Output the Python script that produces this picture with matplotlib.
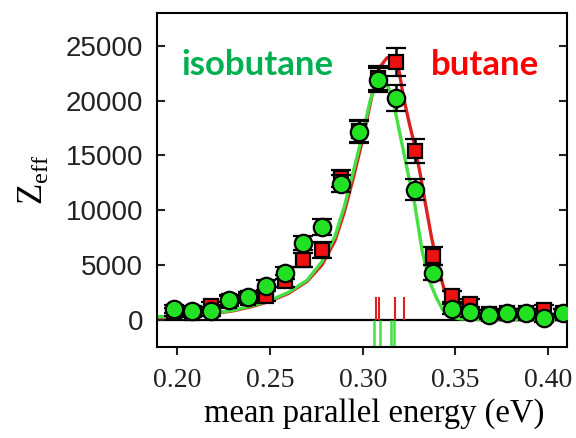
import numpy as np
import matplotlib
matplotlib.use("Agg")
import matplotlib.pyplot as plt

plt.rcParams['mathtext.fontset'] = 'custom'
plt.rcParams['mathtext.rm'] = 'Liberation Serif'

# measured Zeff vs mean parallel energy
energy = [0.198, 0.208, 0.218, 0.228, 0.238, 0.248, 0.258, 0.268, 0.278, 0.288, 0.298,
          0.308, 0.318, 0.328, 0.338, 0.348, 0.358, 0.368, 0.378, 0.388, 0.398, 0.408]
iso_z = [970, 800, 760, 1760, 2060, 3090, 4300, 6970, 8480, 12420, 17120,
         21880, 20240, 11880, 4300, 970, 670, 450, 600, 600, 150, 600]
iso_err = [400, 400, 400, 450, 450, 500, 550, 650, 750, 800, 1000,
           1100, 1200, 1000, 700, 500, 450, 400, 400, 400, 400, 400]
but_z = [700, 600, 1200, 1700, 2000, 2180, 3500, 5450, 6360, 12900, 17200,
         22100, 23550, 15390, 5820, 2120, 1420, 500, 600, 600, 900, 600]
but_err = [400, 400, 450, 450, 450, 500, 550, 600, 700, 800, 1000,
           1100, 1300, 1100, 800, 500, 450, 400, 400, 400, 400, 400]

# fitted curves
iso_fit_x = [0.189, 0.200, 0.210, 0.220, 0.230, 0.240, 0.250, 0.260, 0.270, 0.278, 0.285,
             0.290, 0.295, 0.300, 0.304, 0.307, 0.310, 0.313, 0.316, 0.320, 0.324, 0.328,
             0.332, 0.336, 0.340, 0.344, 0.348, 0.352, 0.360, 0.380, 0.410]
iso_fit_y = [250, 330, 450, 600, 850, 1250, 1750, 2500, 3600, 5300, 7600,
             10300, 13600, 17000, 20000, 21500, 22000, 21500, 20300, 17000, 13700, 10600,
             6300, 3500, 1900, 650, 250, 80, 20, 0, 0]
but_fit_x = [0.189, 0.200, 0.210, 0.220, 0.230, 0.240, 0.250, 0.260, 0.270, 0.278, 0.285,
             0.290, 0.295, 0.300, 0.305, 0.309, 0.313, 0.316, 0.319, 0.322, 0.325, 0.328,
             0.331, 0.334, 0.337, 0.340, 0.344, 0.348, 0.352, 0.356, 0.365, 0.380, 0.410]
but_fit_y = [200, 280, 400, 560, 800, 1180, 1680, 2400, 3500, 5000, 7200,
             9800, 13000, 16500, 20500, 23000, 23900, 24000, 23300, 20300, 18000, 15900,
             13300, 10400, 7600, 5200, 2700, 800, 200, 50, 0, 0, 0]

# vibrational mode energies
but_modes = [0.3074, 0.3088, 0.3173, 0.3221]
iso_modes = [0.3063, 0.3091, 0.3152, 0.3167]

green_line = '#44e044'
red_line = '#dd2020'

fig = plt.figure(figsize=(5.76, 4.38), dpi=100)
ax = fig.add_axes([0.2726, 0.2078, 0.7118, 0.7625])

ax.axhline(0, color='black', lw=1.6, zorder=1)
ax.vlines(but_modes, 0, 2100, color=red_line, lw=1.5, zorder=1)
ax.vlines(iso_modes, -2600, 0, color=green_line, lw=1.8, zorder=1)

ax.plot(but_fit_x, but_fit_y, color=red_line, lw=2.4, zorder=2)
ax.plot(iso_fit_x, iso_fit_y, color=green_line, lw=2.4, zorder=2)

ax.errorbar(energy, but_z, yerr=but_err, fmt='s', color='black', ms=10.5,
            mfc='#ee1111', mec='black', mew=1.6, elinewidth=1.8, capsize=7.5,
            capthick=2.4, zorder=3)
ax.errorbar(energy, iso_z, yerr=iso_err, fmt='o', color='black', ms=12.5,
            mfc='#22e022', mec='black', mew=1.6, elinewidth=1.8, capsize=7.5,
            capthick=2.4, zorder=4)

ax.text(0.2434, 22300, 'isobutane', color='#00b050', fontsize=25, fontweight='bold',
        family='Lato', ha='center', va='baseline')
ax.text(0.3661, 22300, 'butane', color='#ff0000', fontsize=25, fontweight='bold',
        family='Lato', ha='center', va='baseline')

ax.set_xlim(0.189, 0.4102)
ax.set_ylim(-2500, 28000)
ax.set_xticks([0.20, 0.25, 0.30, 0.35, 0.40])
ax.set_xticklabels(['0.20', '0.25', '0.30', '0.35', '0.40'], family='Liberation Serif', fontsize=20)
ax.set_yticks([0, 5000, 10000, 15000, 20000, 25000])
ax.set_yticklabels(['0', '5000', '10000', '15000', '20000', '25000'], family='Liberation Sans', fontsize=20)

ax.tick_params(axis='x', direction='out', length=6, width=1.5, pad=9, colors='#222222')
ax.tick_params(axis='y', direction='in', length=6, width=1.5, left=True, right=True, pad=10,
               colors='#222222')
for s in ax.spines.values():
    s.set_linewidth(1.5)

ax.set_xlabel('mean parallel energy (eV)', family='Liberation Serif', fontsize=23.5)
ax.xaxis.set_label_coords(0.529, -0.153)
ax.set_ylabel(r'$\mathrm{Z}_{\mathrm{eff}}$', fontsize=25, labelpad=11)

fig.savefig('out.png', dpi=100)
